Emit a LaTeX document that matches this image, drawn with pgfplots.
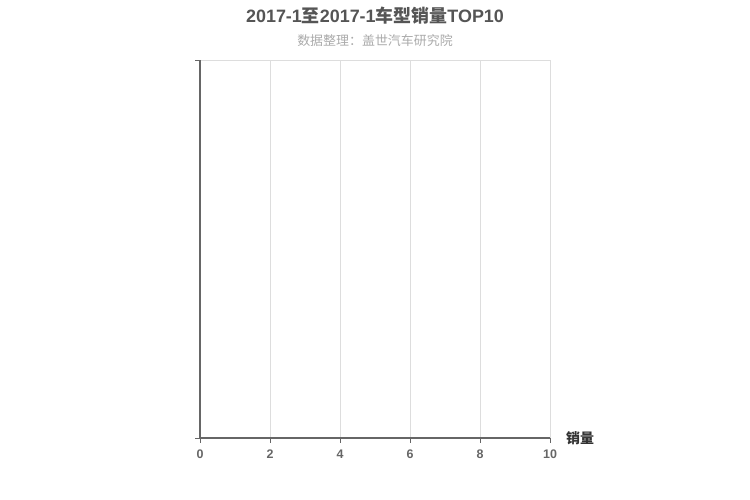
\documentclass[border=0pt]{standalone}
\usepackage{pgfplots}
\pgfplotsset{compat=1.18}
\usepackage{fontspec}
\setmainfont{Liberation Sans}
\newfontfamily\cjk{Noto Sans CJK SC}
\definecolor{axisgray}{HTML}{666666}
\definecolor{gridgray}{HTML}{DDDDDD}
\definecolor{titlegray}{HTML}{555555}
\definecolor{subgray}{HTML}{AAAAAA}
\definecolor{labelgray}{HTML}{333333}
\begin{document}
\begin{tikzpicture}[x=1bp,y=1bp]
\useasboundingbox (0,0) rectangle (750,500);
% empty chart: no sales data
\begin{axis}[
  at={(200bp,62bp)}, anchor=south west,
  scale only axis, clip=false,
  width=350bp, height=378bp,
  xmin=0, xmax=10, ymin=0, ymax=1,
  xtick={0,2,4,6,8,10},
  ytick={0,1}, yticklabels={},
  axis lines*=left,
  axis line style={color=axisgray, line width=1.2bp},
  xmajorgrids, ymajorgrids,
  major grid style={color=gridgray, line width=0.8bp},
  tick align=outside,
  major tick length=5bp,
  tick style={color=axisgray, line width=0.8bp},
  xticklabel style={font=\bfseries\fontsize{12.5}{12.5}\selectfont, text=axisgray, yshift=-3bp},
  /pgf/number format/assume math mode=true,
]
\end{axis}
\node[font=\cjk\bfseries\fontsize{14}{14}\selectfont, text=labelgray] at (580,62) {销量};
\node[font=\bfseries\fontsize{18}{18}\selectfont, text=titlegray] at (375,484) {2017-1{\cjk 至}2017-1{\cjk 车型销量}TOP10};
\node[font=\cjk\fontsize{13}{13}\selectfont, text=subgray] at (375,459) {数据整理：盖世汽车研究院};
\end{tikzpicture}
\end{document}
